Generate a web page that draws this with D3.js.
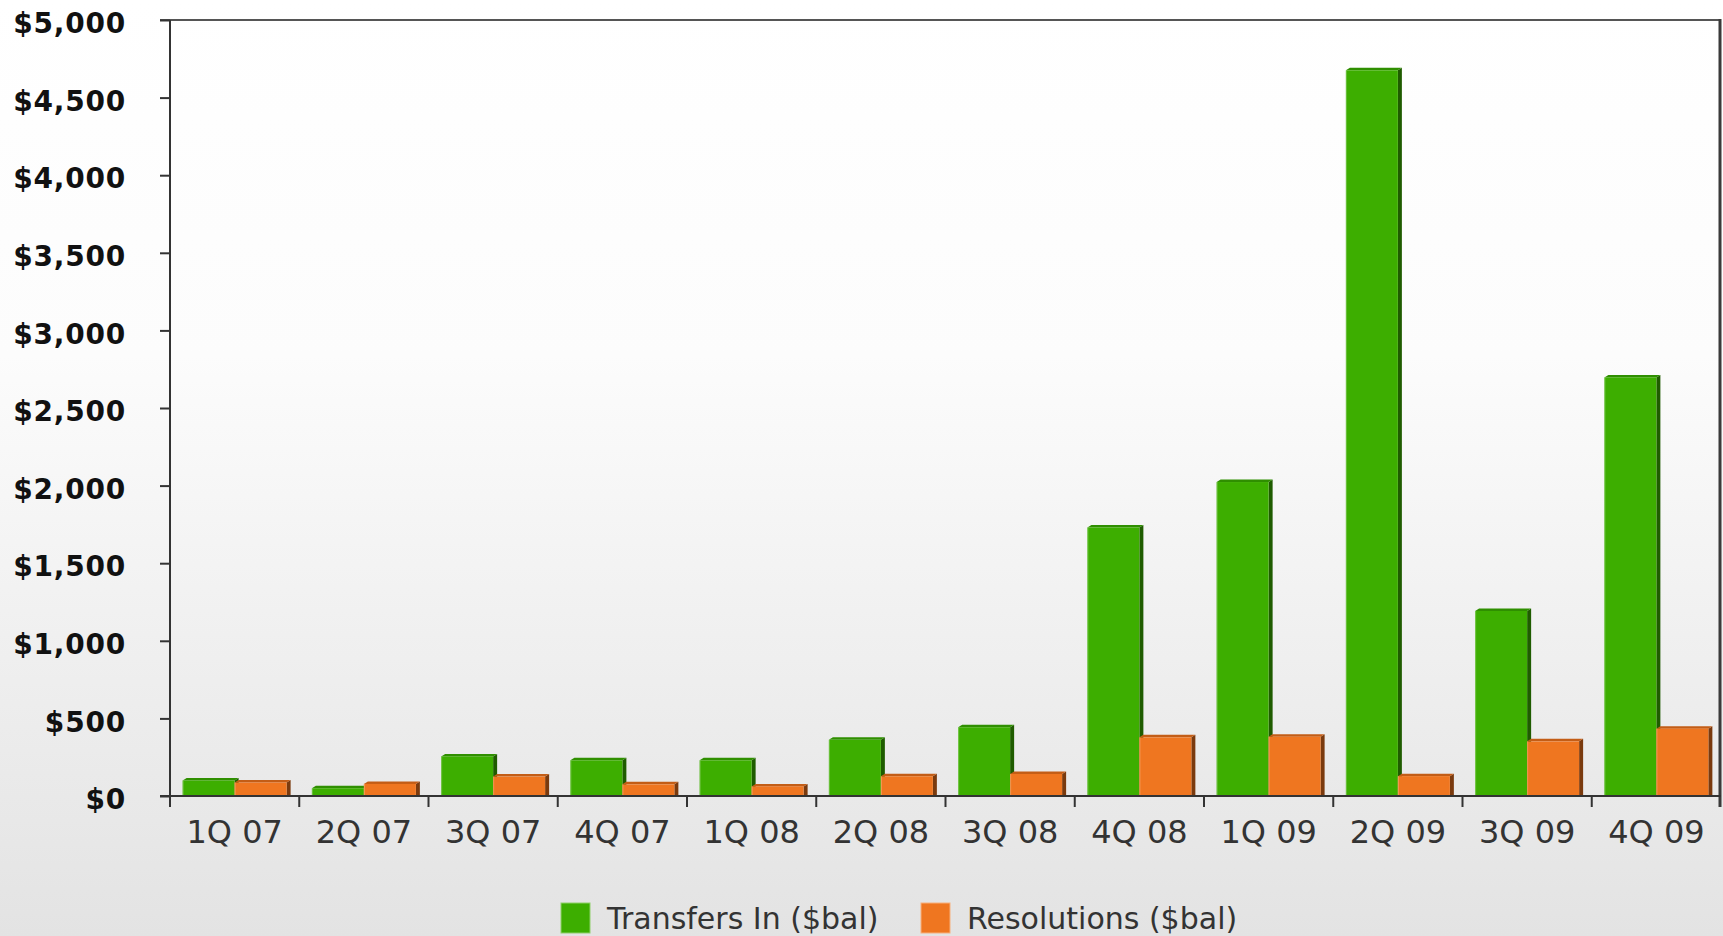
<!DOCTYPE html>
<html>
<head>
<meta charset="utf-8">
<script src="https://cdn.jsdelivr.net/npm/d3@7"></script>
<style>
  html, body { margin: 0; padding: 0; overflow: hidden; }
  svg { display: block; }
</style>
</head>
<body>
<svg id="chart" width="1723" height="936"></svg>
<script>
// Quarterly balances, in $ (bal)
const categories = ["1Q 07", "2Q 07", "3Q 07", "4Q 07", "1Q 08", "2Q 08", "3Q 08", "4Q 08", "1Q 09", "2Q 09", "3Q 09", "4Q 09"];
const transfersIn = [100, 50, 255, 230, 230, 362, 443, 1730, 2023, 4676, 1192, 2697];
const resolutions = [87, 78, 125, 75, 62, 127, 142, 378, 382, 128, 352, 434];
const seriesNames = ["Transfers In ($bal)", "Resolutions ($bal)"];
const yTicks = [0, 500, 1000, 1500, 2000, 2500, 3000, 3500, 4000, 4500, 5000];

const W = 1723, H = 936;
const plotLeft = 170, plotRight = 1721, plotTop = 20, plotBottom = 796;
const depth = 4;

const colors = [
  { front: "#3dae00", side: "#1f5c00", top: "#2f8f00", edge: "#8fd06a" },
  { front: "#ef7620", side: "#7a3a0e", top: "#c35d16", edge: "#f7b07c" }
];

const svg = d3.select("#chart");
const defs = svg.append("defs");
const grad = defs.append("linearGradient")
  .attr("id", "bg").attr("x1", 0).attr("y1", 0).attr("x2", 0).attr("y2", 1);
grad.append("stop").attr("offset", "0%").attr("stop-color", "#ffffff");
grad.append("stop").attr("offset", "38%").attr("stop-color", "#fcfcfc");
grad.append("stop").attr("offset", "100%").attr("stop-color", "#e3e3e3");

svg.append("rect").attr("width", W).attr("height", H).attr("fill", "url(#bg)");

const x = d3.scaleBand().domain(categories).range([plotLeft, plotRight]).padding(0);
const xs = d3.scaleBand().domain([0, 1]).range([0, x.bandwidth()]).paddingInner(0).paddingOuter(0.243);
const y = d3.scaleLinear().domain([0, 5000]).range([plotBottom, plotTop]);

const series = [transfersIn, resolutions];

// bars with a small 3-D extrusion (front face, top face, right side)
series.forEach((vals, si) => {
  const c = colors[si];
  const g = svg.append("g");
  const items = categories.map((cat, i) => ({ cat, v: vals[i] }));
  items.forEach(d => {
    const x0 = x(d.cat) + xs(si);
    const w = xs.bandwidth();
    const y1 = y(d.v), y0 = y(0);
    const dy = 2.5;
    // side
    g.append("path")
      .attr("d", `M${x0 + w},${y1} L${x0 + w + depth},${y1 - dy} L${x0 + w + depth},${y0} L${x0 + w},${y0} Z`)
      .attr("fill", c.side);
    // top
    g.append("path")
      .attr("d", `M${x0},${y1} L${x0 + depth},${y1 - dy} L${x0 + w + depth},${y1 - dy} L${x0 + w},${y1} Z`)
      .attr("fill", c.top);
    // front
    g.append("rect")
      .attr("x", x0).attr("y", y1)
      .attr("width", w).attr("height", y0 - y1)
      .attr("fill", c.front);
    g.append("line")
      .attr("x1", x0 + 0.5).attr("x2", x0 + 0.5)
      .attr("y1", y1).attr("y2", y0)
      .attr("stroke", c.edge).attr("stroke-opacity", 0.6).attr("stroke-width", 1);
  });
});

// frame: top line and right border
svg.append("line").attr("x1", 160).attr("x2", plotRight).attr("y1", plotTop).attr("y2", plotTop)
  .attr("stroke", "#555").attr("stroke-width", 2);
svg.append("line").attr("x1", plotRight - 1).attr("x2", plotRight - 1).attr("y1", plotTop - 1).attr("y2", 807)
  .attr("stroke", "#3a3a3a").attr("stroke-width", 3);

// y axis
const yAxis = svg.append("g").attr("transform", `translate(${plotLeft},0)`)
  .call(d3.axisLeft(y).tickValues(yTicks).tickSize(10).tickPadding(34)
    .tickFormat(d => "$" + d3.format(",")(d)));
yAxis.select(".domain").remove();
yAxis.append("line").attr("x1", 0).attr("x2", 0).attr("y1", plotTop).attr("y2", 807)
  .attr("stroke", "#333").attr("stroke-width", 2);
yAxis.selectAll(".tick line").attr("stroke", "#333").attr("stroke-width", 2);
yAxis.selectAll(".tick text")
  .attr("fill", "#111")
  .attr("font-family", "'DejaVu Sans', Verdana, sans-serif")
  .attr("font-weight", "bold")
  .attr("font-size", "28px")
  .attr("letter-spacing", "0.8px")
  .attr("dy", "0.45em");

// x axis
const xAxis = svg.append("g").attr("transform", `translate(0,${plotBottom})`)
  .call(d3.axisBottom(x).tickSize(0).tickPadding(47));
xAxis.select(".domain").remove();
xAxis.append("line").attr("x1", 160).attr("x2", plotRight).attr("y1", 0).attr("y2", 0)
  .attr("stroke", "#333").attr("stroke-width", 2);
xAxis.selectAll(".tick text")
  .attr("fill", "#333")
  .attr("font-family", "'DejaVu Sans', Verdana, sans-serif")
  .attr("font-size", "32px")
  .attr("dy", "0");
// boundary ticks between quarters
xAxis.selectAll(".qtick").data(categories.slice(1)).enter().append("line")
  .attr("class", "qtick")
  .attr("x1", d => x(d)).attr("x2", d => x(d))
  .attr("y1", 0).attr("y2", 11)
  .attr("stroke", "#333").attr("stroke-width", 2);

// legend
const legend = svg.append("g").attr("font-family", "'DejaVu Sans', Verdana, sans-serif");
const legendX = [561, 921];
seriesNames.forEach((name, i) => {
  legend.append("rect").attr("x", legendX[i]).attr("y", 903).attr("width", 29).attr("height", 30)
    .attr("fill", colors[i].front).attr("stroke", colors[i].edge).attr("stroke-width", 1);
  legend.append("text").attr("x", legendX[i] + 46).attr("y", 929)
    .attr("font-size", "30px").attr("fill", "#333").text(name);
});
</script>
</body>
</html>
